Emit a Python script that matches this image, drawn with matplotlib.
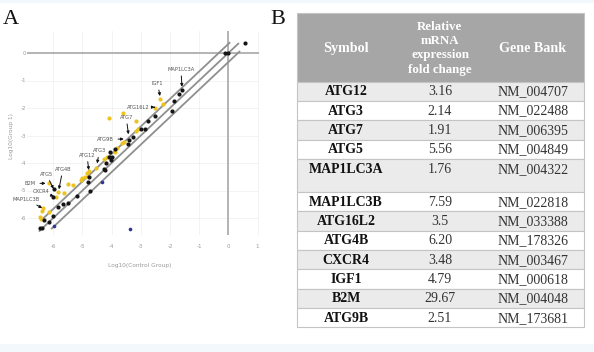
import matplotlib
matplotlib.use('Agg')
import matplotlib.pyplot as plt
from matplotlib.patches import Rectangle

# ---------------- data: scatter (log10 values) ----------------
black_x = [0.57, -0.12, -0.01, -1.60, -1.68, -1.87, -1.94, -2.50, -2.74, -3.00, -2.85,
           -3.28, -3.41, -3.45, -3.90, -4.05, -4.08, -3.98, -4.21, -4.24, -4.25, -4.02,
           -4.76, -4.82, -4.73, -5.18, -5.50, -5.67, -5.85, -5.98, -6.02, -6.02, -6.13,
           -6.33, -6.47, -6.38]
black_y = [0.35, -0.01, -0.01, -1.35, -1.50, -1.75, -2.10, -2.29, -2.46, -2.77, -2.77,
           -3.04, -3.16, -3.31, -3.49, -3.59, -3.77, -3.79, -3.99, -4.25, -4.20, -3.89,
           -4.50, -4.68, -5.00, -5.19, -5.44, -5.50, -5.61, -4.95, -5.22, -5.92, -6.13,
           -6.07, -6.37, -6.37]
yellow_x = [-2.23, -2.34, -2.53, -4.08, -3.60, -3.18, -3.18, -3.10, -3.64, -3.56, -3.83,
            -3.90, -4.17, -4.25, -4.53, -4.76, -4.85, -4.90, -5.01, -5.05, -5.31, -5.50,
            -5.62, -5.85, -5.92, -6.15, -6.36, -6.38, -6.15, -6.47, -6.42]
yellow_y = [-1.85, -1.66, -2.01, -2.38, -2.19, -2.46, -2.83, -2.77, -3.28, -3.22, -3.47,
            -3.59, -3.77, -3.87, -4.19, -4.28, -4.37, -4.50, -4.56, -4.62, -4.80, -4.76,
            -5.10, -5.04, -5.25, -4.72, -5.65, -5.73, -5.78, -5.95, -6.04]
blue_x = [-4.34, -5.96, -3.36]
blue_y = [-4.68, -6.29, -6.40]

fold_boundary = 0.33  # log10 distance of the boundary lines from y = x

annot_genes = ['MAP1LC3A', 'IGF1', 'ATG16L2', 'ATG7', 'ATG9B', 'ATG3', 'ATG12',
               'ATG4B', 'ATG5', 'B2M', 'CXCR4', 'MAP1LC3B']
annot_x = [-1.59, -2.34, -2.50, -3.42, -3.56, -4.50, -4.78, -5.81, -5.98, -6.24, -5.96, -6.36]
annot_y = [-1.25, -1.59, -1.97, -2.98, -3.13, -4.04, -4.28, -4.98, -4.96, -4.74, -5.22, -5.65]

x_ticks = [-6, -5, -4, -3, -2, -1, 0, 1]
y_ticks = [0, -1, -2, -3, -4, -5, -6]

# ---------------- data: table ----------------
header = ['Symbol', 'Relative\nmRNA\nexpression\nfold change', 'Gene Bank']
symbols = ['ATG12', 'ATG3', 'ATG7', 'ATG5', 'MAP1LC3A', 'MAP1LC3B', 'ATG16L2',
           'ATG4B', 'CXCR4', 'IGF1', 'B2M', 'ATG9B']
fold_changes = ['3.16', '2.14', '1.91', '5.56', '1.76', '7.59', '3.5', '6.20',
                '3.48', '4.79', '29.67', '2.51']
gene_bank = ['NM_004707', 'NM_022488', 'NM_006395', 'NM_004849', 'NM_004322',
             'NM_022818', 'NM_033388', 'NM_178326', 'NM_003467', 'NM_000618',
             'NM_004048', 'NM_173681']

# ---------------- figure ----------------
W, H = 594, 352
fig = plt.figure(figsize=(W / 100, H / 100), dpi=100)
fig.patch.set_facecolor('white')

# background canvas in pixel coordinates
bg = fig.add_axes([0, 0, 1, 1])
bg.set_xlim(0, W)
bg.set_ylim(H, 0)
bg.axis('off')
bg.add_patch(Rectangle((0, 0), W, 2.5, color='#f3f8fd', lw=0))
bg.add_patch(Rectangle((0, 343.5), W, 9, color='#f3f8fd', lw=0))
bg.text(3, 19.5, 'A', family='Liberation Serif', fontsize=16, va='center', ha='left', color='#111')
bg.text(270, 19.5, 'B', family='Liberation Serif', fontsize=16, va='center', ha='left', color='#111')

# ---------------- panel A scatter ----------------
ax = fig.add_axes([27 / W, 1 - 234.5 / H, 232 / W, 203.5 / H])
ax.set_xlim(-6.9, 1.05)
ax.set_ylim(-6.6, 0.8)
for s in ax.spines.values():
    s.set_visible(False)
ax.set_xticks(x_ticks)
ax.set_yticks(y_ticks)
ax.set_xticklabels([str(t) for t in x_ticks])
ax.set_yticklabels([str(t) for t in y_ticks])
ax.tick_params(length=0, labelsize=4, colors='#9a9a9a')
ax.tick_params(axis='x', pad=7)
ax.tick_params(axis='y', pad=0.5)
ax.grid(True, color='#eeeeee', lw=0.5)
ax.set_axisbelow(True)
ax.axhline(0, color='#a8a8a8', lw=1.2, zorder=1)
ax.axvline(0, color='#a8a8a8', lw=1.2, zorder=1)

# diagonal reference lines: y = x, y = x +/- boundary
ax.plot([-6.47, 0.34], [-6.47, 0.34], color='#8f8f8f', lw=1.3, zorder=2)
ax.plot([-6.40, 0.04], [-6.40 + fold_boundary, 0.04 + fold_boundary], color='#8f8f8f', lw=1.3, zorder=2)
ax.plot([-6.05, 0.38], [-6.05 - fold_boundary, 0.38 - fold_boundary], color='#8f8f8f', lw=1.3, zorder=2)

ax.scatter(yellow_x, yellow_y, s=9, color='#eec21f', lw=0, zorder=3)
ax.scatter(black_x, black_y, s=9, color='#151515', lw=0, zorder=4)
ax.scatter(blue_x, blue_y, s=7, color='#2d3a8c', lw=0, zorder=4)

# annotation label offsets in points (layout)
offsets = [(-0.7, 13), (-1.7, 9.6), (-12, 0), (-1.7, 12.7), (-13.7, 0), (1.7, 9.6),
           (-1.4, 11.3), (2.9, 14.9), (-5.5, 11), (-11.5, 0), (-9.6, 3.6), (-12, 6.7)]
for g, gx, gy, off in zip(annot_genes, annot_x, annot_y, offsets):
    ax.annotate(g, xy=(gx, gy), xytext=off, textcoords='offset points',
                fontsize=3.7, color='#555555', ha='center', va='center',
                annotation_clip=False,
                arrowprops=dict(arrowstyle='-|>', color='#111111', lw=0.7,
                                mutation_scale=4, shrinkA=1, shrinkB=0.5),
                zorder=6)

fig.text(140 / W, 1 - 265 / H, 'Log10(Control Group)', fontsize=4.2, color='#9a9a9a',
         ha='center', va='center')
fig.text(12 / W, 1 - 136 / H, 'Log10(Group 1)', fontsize=4.2, color='#9a9a9a',
         ha='center', va='center', rotation=90)

# ---------------- panel B table ----------------
tx0, tx1 = 297, 584
col_centers = [346, 440, 533]
header_top, header_h = 13.3, 68.3
row_h, tall_row_h = 19.35, 33
serif = 'Liberation Serif'

bg.add_patch(Rectangle((tx0, header_top), tx1 - tx0, header_h, facecolor='#a6a6a6',
                       edgecolor='#c4c4c4', lw=0.8))
bg.text(col_centers[0], header_top + 35.5, header[0], family=serif, fontweight='bold',
        fontsize=10.2, color='white', ha='center', va='center')
bg.text(col_centers[1], header_top + 35, header[1], family=serif, fontweight='bold',
        fontsize=9.3, color='white', ha='center', va='center', linespacing=1.25)
bg.text(col_centers[2], header_top + 35.5, header[2], family=serif, fontweight='bold',
        fontsize=10.2, color='white', ha='center', va='center')

y = header_top + header_h
for i, (sym, fc, gb) in enumerate(zip(symbols, fold_changes, gene_bank)):
    h = tall_row_h if sym == 'MAP1LC3A' else row_h
    face = '#ebebeb' if i % 2 == 0 else 'white'
    bg.add_patch(Rectangle((tx0, y), tx1 - tx0, h, facecolor=face, edgecolor='#c4c4c4', lw=0.8))
    ty = y + row_h / 2 + 0.5
    bg.text(col_centers[0], ty, sym, family=serif, fontweight='bold', fontsize=10,
            color='#111111', ha='center', va='center')
    bg.text(col_centers[1], ty, fc, family=serif, fontsize=10, color='#333333',
            ha='center', va='center')
    bg.text(col_centers[2], ty, gb, family=serif, fontsize=10, color='#333333',
            ha='center', va='center')
    y += h

fig.savefig('out.png', dpi=100, facecolor='white')
